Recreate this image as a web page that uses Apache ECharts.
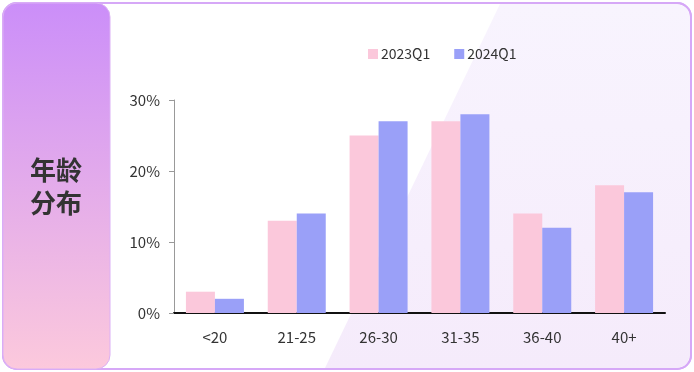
<!DOCTYPE html>
<html><head><meta charset="utf-8">
<script src="https://cdn.jsdelivr.net/npm/echarts@6/dist/echarts.min.js"></script>
<style>html,body{margin:0;padding:0;background:#fff}#c{width:694px;height:372px}</style>
</head><body><div id="c"></div>
<script>
var categories = ['<20','21-25','26-30','31-35','36-40','40+'];
var s2023 = [3,13,25,27,14,18];
var s2024 = [2,14,27,28,12,17];
var seriesNames = ['2023Q1','2024Q1'];
var yTicks = [0,10,20,30];
var title = '年龄\n分布';

var chart = echarts.init(document.getElementById('c'));
chart.setOption({
  animation:false,
  backgroundColor:'#fff',
  graphic:[
    {type:'rect',z:-10,shape:{x:3,y:3,width:688,height:366,r:14},style:{fill:'#fff',stroke:'#d6a8f7',lineWidth:2}},
    {type:'polygon',z:-9,shape:{points:[[500,4],[677,4],[684,6],[688,10],[690,17],[690,355],[688,362],[684,366],[677,368],[325,368]]},
      style:{fill:new echarts.graphic.LinearGradient(0,0,0,1,[{offset:0,color:'#f8f4fe'},{offset:1,color:'#f5ebfb'}])}},
    {type:'rect',z:-8,shape:{x:3,y:3,width:688,height:366,r:14},style:{fill:'none',stroke:'#d6a8f7',lineWidth:2}},
    {type:'rect',z:-7,shape:{x:3,y:3,width:107,height:366,r:14},
      style:{fill:new echarts.graphic.LinearGradient(0,0,0,1,[{offset:0,color:'#cb8ef9'},{offset:1,color:'#fcc9dc'}]),stroke:'#dcb0f5',lineWidth:1}},
    {type:'text',z:10,left:30,top:154,style:{text:title,font:'bold 26px "Noto Sans CJK SC"',fill:'#333',lineHeight:33,textAlign:'left'}}
  ],
  legend:{top:42,left:363,itemWidth:10,itemHeight:10,itemGap:24,icon:'rect',
    textStyle:{color:'#333',fontSize:14,fontFamily:'Noto Sans CJK SC',padding:[0,0,0,-2]},data:seriesNames},
  grid:{left:174,right:29,top:100,bottom:59},
  xAxis:{type:'category',data:categories,
    axisLine:{lineStyle:{color:'#111',width:2}},axisTick:{show:false},
    axisLabel:{color:'#333',fontSize:15,fontFamily:'Noto Sans CJK SC',margin:17}},
  yAxis:{type:'value',min:0,max:30,interval:10,
    axisLine:{show:true,lineStyle:{color:'#999',width:1}},
    axisTick:{show:true,length:5,lineStyle:{color:'#999'}},
    splitLine:{show:false},
    axisLabel:{color:'#333',fontSize:15,fontFamily:'Noto Sans CJK SC',margin:14,formatter:'{value}%'}},
  series:[
    {name:seriesNames[0],type:'bar',data:s2023,barWidth:29,barGap:'0%',itemStyle:{color:'#fbc8db'}},
    {name:seriesNames[1],type:'bar',data:s2024,barWidth:29,barGap:'0%',itemStyle:{color:'#9aa0f8'}}
  ]
});
</script></body></html>
